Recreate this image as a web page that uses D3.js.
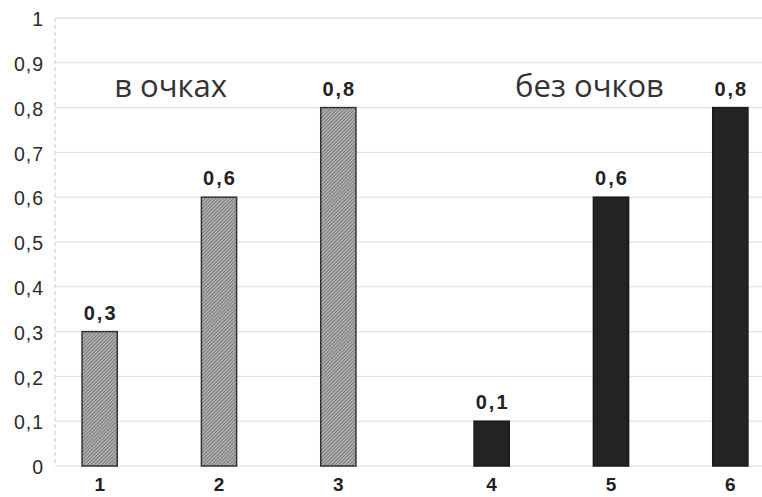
<!DOCTYPE html>
<html><head><meta charset="utf-8">
<script src="https://cdn.jsdelivr.net/npm/d3@7"></script>
<style>body{margin:0;background:#fff}svg{display:block}</style>
</head><body>
<svg id="c" width="762" height="497"></svg>
<script>
const groups = ["в очках", "без очков"];
const categories = ["1","2","3","4","5","6"];
const groupOf = [0,0,0,1,1,1];
const values = [0.3, 0.6, 0.8, 0.1, 0.6, 0.8];
const valueLabels = ["0,3","0,6","0,8","0,1","0,6","0,8"];
const yTicks = [0,0.1,0.2,0.3,0.4,0.5,0.6,0.7,0.8,0.9,1];
const yTickLabels = ["0","0,1","0,2","0,3","0,4","0,5","0,6","0,7","0,8","0,9","1"];

const svg = d3.select("#c");
const W = 762, H = 497;
const y = d3.scaleLinear().domain([0,1]).range([466,18]);
const xg = d3.scaleBand().domain([0,1]).range([40,790]).paddingInner(0.0867);
const xi = d3.scaleBand().domain([0,1,2]).range([0, xg.bandwidth()]).paddingInner(0.705).paddingOuter(0.3525);

const defs = svg.append("defs");
const pat = defs.append("pattern").attr("id","hatch").attr("patternUnits","userSpaceOnUse")
  .attr("width",2.5).attr("height",2.5).attr("patternTransform","rotate(45)");
pat.append("rect").attr("width",2.5).attr("height",2.5).attr("fill","#bcbcbc");
pat.append("rect").attr("width",1.1).attr("height",2.5).attr("fill","#727272");

// grid
svg.append("g").selectAll("line").data(yTicks.slice(0,-1)).join("line")
  .attr("x1",55).attr("x2",W).attr("y1",d=>y(d)).attr("y2",d=>y(d))
  .attr("stroke","#dcdcdc").attr("stroke-width",1);
svg.append("line").attr("x1",55).attr("x2",W).attr("y1",y(1)).attr("y2",y(1))
  .attr("stroke","#e6e6e6").attr("stroke-width",2);
svg.append("line").attr("x1",55).attr("x2",55).attr("y1",y(1)).attr("y2",y(0))
  .attr("stroke","#e2e2e2").attr("stroke-width",2).attr("stroke-dasharray","4,3");

// y axis labels
const yAxis = d3.axisLeft(y).tickValues(yTicks).tickFormat((d,i)=>yTickLabels[i]).tickSize(0).tickPadding(0);
const ya = svg.append("g").attr("transform","translate(44,1.5)").call(yAxis);
ya.select(".domain").remove();
ya.selectAll("text").attr("font-family","Liberation Sans, Arial, sans-serif").attr("font-size",19.5)
  .attr("letter-spacing",1).attr("fill","#2a2a2a");

const xPos = i => xg(groupOf[i]) + xi(i % 3);
const bw = xi.bandwidth();

svg.append("g").selectAll("rect").data(values).join("rect")
  .attr("x",(d,i)=>xPos(i)).attr("width",bw)
  .attr("y",d=>y(d)).attr("height",d=>y(0)-y(d))
  .attr("fill",(d,i)=>groupOf[i]===0?"url(#hatch)":"#232323")
  .attr("stroke",(d,i)=>groupOf[i]===0?"#333":"#1a1a1a").attr("stroke-width",1.5);

svg.append("g").selectAll("text").data(values).join("text")
  .attr("x",(d,i)=>xPos(i)+bw/2+1).attr("y",d=>y(d)-12)
  .attr("text-anchor","middle").attr("font-family","Liberation Sans, Arial, sans-serif")
  .attr("font-weight","bold").attr("font-size",20).attr("letter-spacing",2).attr("fill","#222")
  .text((d,i)=>valueLabels[i]);

svg.append("g").selectAll("text").data(categories).join("text")
  .attr("x",(d,i)=>xPos(i)+bw/2).attr("y",491)
  .attr("text-anchor","middle").attr("font-family","Liberation Sans, Arial, sans-serif")
  .attr("font-weight","bold").attr("font-size",19).attr("fill","#222").text(d=>d);

svg.append("g").selectAll("text").data(groups).join("text")
  .attr("x",(d,i)=>i===0 ? xg(i)+xg.bandwidth()*0.365 : xg(i)+xg.bandwidth()*0.44).attr("y",97)
  .attr("text-anchor","middle").attr("font-family","Open Sans, DejaVu Sans, sans-serif")
  .attr("font-size",31).attr("fill","#333").text(d=>d);
</script>
</body></html>
